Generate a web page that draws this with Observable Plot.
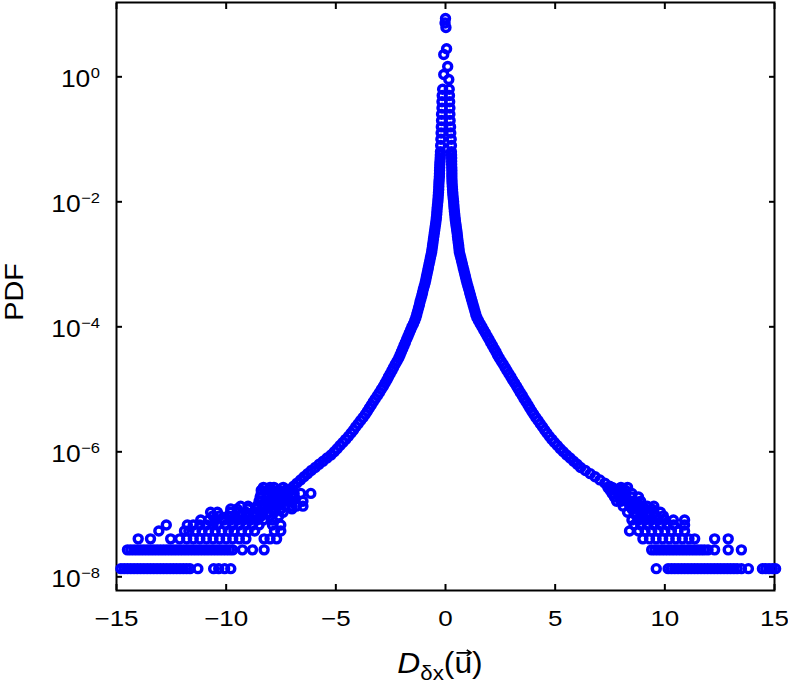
<!DOCTYPE html>
<html><head><meta charset="utf-8">
<script src="https://cdn.jsdelivr.net/npm/d3@7"></script>
<script src="https://cdn.jsdelivr.net/npm/@observablehq/plot@0.6"></script>
<style>
body{margin:0;background:#fff;}
#chart svg{display:block;}
</style></head><body><div id="chart"></div>
<script>
// ---- data ----
const xTicks = [-15, -10, -5, 0, 5, 10, 15];
const yTicks = [1, 1e-2, 1e-4, 1e-6, 1e-8];

// isolated points at the very top of the peak
const peakX   = [0, -0.02, 0.02, 0.05, -0.08, 0.10, -0.08, 0.15];
const peakPdf = [8.57, 7.26, 6.15, 2.81, 2.27, 1.46, 1.09, 0.905];

// PDF levels of the two branches of the central cusp
const corePdf = [
  0.631, 0.501, 0.398, 0.316, 0.251, 0.200, 0.158, 0.126, 0.100, 0.0794,
  0.0631, 0.0562, 0.0501, 0.0447, 0.0398, 0.0355, 0.0316, 0.0282, 0.0251, 0.0224, 0.0200, 0.0178, 0.0158, 0.0141, 0.0126, 0.0112,
  1.00e-2, 8.91e-3, 7.94e-3, 7.08e-3, 6.31e-3, 5.62e-3, 5.01e-3, 4.47e-3, 3.98e-3, 3.55e-3, 3.16e-3, 2.82e-3, 2.51e-3, 2.24e-3, 2.00e-3, 1.78e-3, 1.58e-3, 1.41e-3, 1.26e-3, 1.12e-3,
  1.00e-3, 8.91e-4, 7.94e-4, 7.08e-4, 6.31e-4, 5.62e-4, 5.01e-4, 4.47e-4, 3.98e-4, 3.55e-4, 3.16e-4, 2.82e-4, 2.51e-4, 2.24e-4, 2.00e-4, 1.78e-4, 1.58e-4, 1.41e-4, 1.26e-4, 1.12e-4,
  1.00e-4, 8.91e-5, 7.94e-5, 7.08e-5, 6.31e-5, 5.62e-5, 5.01e-5, 4.47e-5, 3.98e-5, 3.55e-5, 3.16e-5, 2.82e-5, 2.51e-5, 2.24e-5, 2.00e-5, 1.78e-5, 1.58e-5, 1.41e-5, 1.26e-5, 1.12e-5,
  1.00e-5, 8.91e-6, 7.94e-6, 7.08e-6, 6.31e-6, 5.62e-6, 5.01e-6, 4.47e-6, 3.98e-6, 3.55e-6, 3.16e-6, 2.82e-6, 2.51e-6, 2.24e-6, 2.00e-6, 1.78e-6, 1.58e-6, 1.41e-6, 1.26e-6, 1.12e-6,
  1.00e-6, 8.91e-7, 7.94e-7, 7.08e-7, 6.31e-7, 5.62e-7, 5.01e-7, 4.47e-7, 3.98e-7, 3.55e-7, 3.16e-7, 2.82e-7, 2.51e-7, 2.24e-7, 2.00e-7, 1.78e-7, 1.58e-7, 1.41e-7, 1.26e-7, 1.12e-7,
  1.00e-7
];
const coreLeftX = [
  -0.13, -0.15, -0.16, -0.16, -0.18, -0.18, -0.19, -0.20, -0.21, -0.22,
  -0.23, -0.235, -0.24, -0.25, -0.26, -0.265, -0.27, -0.275, -0.28, -0.29, -0.30, -0.305, -0.31, -0.32, -0.33, -0.34,
  -0.35, -0.365, -0.38, -0.39, -0.40, -0.415, -0.43, -0.45, -0.47, -0.49, -0.51, -0.53, -0.55, -0.57, -0.59, -0.61, -0.63, -0.66, -0.69, -0.72,
  -0.75, -0.78, -0.81, -0.84, -0.87, -0.90, -0.93, -0.97, -1.01, -1.045, -1.08, -1.12, -1.16, -1.19, -1.23, -1.27, -1.31, -1.35, -1.40, -1.46,
  -1.53, -1.59, -1.65, -1.71, -1.77, -1.83, -1.89, -1.95, -2.01, -2.07, -2.13, -2.21, -2.29, -2.37, -2.44, -2.52, -2.60, -2.67, -2.75, -2.83,
  -2.92, -3.01, -3.10, -3.20, -3.29, -3.38, -3.47, -3.56, -3.65, -3.76, -3.87, -3.98, -4.09, -4.19, -4.30, -4.42, -4.55, -4.68, -4.81, -4.94,
  -5.07, -5.22, -5.40, -5.58, -5.76, -5.94, -6.12, -6.29, -6.45, -6.61, -6.77, -6.93, -7.10, -7.30, -7.50, -7.70, -7.90, -8.09, -8.28, -8.47,
  -8.66
];
const coreRightX = [
  0.17, 0.18, 0.19, 0.20, 0.20, 0.21, 0.23, 0.24, 0.26, 0.27,
  0.27, 0.275, 0.28, 0.28, 0.28, 0.285, 0.29, 0.29, 0.29, 0.295, 0.30, 0.31, 0.32, 0.33, 0.34, 0.355,
  0.37, 0.38, 0.39, 0.405, 0.42, 0.435, 0.45, 0.47, 0.49, 0.51, 0.53, 0.545, 0.56, 0.58, 0.60, 0.615, 0.63, 0.665, 0.70, 0.735,
  0.77, 0.805, 0.84, 0.875, 0.91, 0.945, 0.98, 1.02, 1.06, 1.10, 1.14, 1.18, 1.22, 1.26, 1.30, 1.34, 1.38, 1.43, 1.50, 1.58,
  1.66, 1.74, 1.82, 1.90, 1.98, 2.06, 2.14, 2.22, 2.30, 2.37, 2.45, 2.54, 2.63, 2.72, 2.80, 2.89, 2.98, 3.06, 3.15, 3.24,
  3.32, 3.41, 3.50, 3.58, 3.67, 3.76, 3.84, 3.93, 4.02, 4.12, 4.22, 4.32, 4.42, 4.52, 4.62, 4.73, 4.85, 4.97, 5.10, 5.23,
  5.37, 5.52, 5.68, 5.84, 6.00, 6.16, 6.38, 6.60, 6.82, 7.04, 7.26, 7.48, 7.68, 7.88, 8.07, 8.26, 8.45, 8.63, 8.82, 9.00,
  9.18
];

// quantised PDF levels in the sparse tails, and the x positions seen on each level
const tailLevelPdf = [1.35e-8, 2.7e-8, 4.05e-8, 5.4e-8, 6.75e-8, 8.1e-8, 9.45e-8, 1.08e-7, 1.22e-7, 1.35e-7, 1.62e-7, 1.89e-7, 2.16e-7, 2.43e-7, 2.7e-7];
const tailXByLevel = [
  [-14.8, -14.65, -14.5, -14.35, -14.2, -14.05, -13.9, -13.75, -13.6, -13.45, -13.3, -13.15, -13.0, -12.85, -12.7, -12.55, -12.4, -12.25, -12.1, -11.95, -11.8, -11.65, -11.29, -10.57, -10.34, -10.07, -9.79,
   9.61, 10.15, 10.3, 10.45, 10.6, 10.75, 10.9, 11.05, 11.2, 11.35, 11.5, 11.65, 11.8, 11.95, 12.1, 12.25, 12.4, 12.55, 12.7, 12.85, 13.0, 13.15, 13.3, 13.49, 13.81, 14.45, 14.6, 14.75, 14.9, 15.05],
  [-14.5, -14.35, -14.2, -14.05, -13.9, -13.75, -13.6, -13.45, -13.3, -13.15, -13.0, -12.85, -12.7, -12.55, -12.4, -12.25, -12.1, -11.95, -11.8, -11.65, -11.5, -11.35, -11.2, -11.05, -10.9, -10.75, -10.6, -10.45, -10.3, -10.15, -10.0, -9.85, -9.7, -9.26, -8.80, -8.27,
   9.4, 9.55, 9.7, 9.85, 10.0, 10.15, 10.3, 10.45, 10.6, 10.75, 10.9, 11.05, 11.2, 11.35, 11.5, 11.65, 11.8, 11.97, 12.27, 12.89, 13.49],
  [-14.01, -13.45, -12.53, -12.12, -11.8, -11.5, -11.2, -10.9, -10.6, -10.3, -10.0, -9.7, -9.4, -9.1, -8.27, -8.0, -7.7,
   9.0, 9.3, 9.6, 9.9, 10.2, 10.5, 10.8, 11.1, 11.36, 12.27, 12.89],
  [-13.07, -11.9, -11.7, -11.4, -11.1, -10.8, -10.5, -10.2, -9.9, -9.64, -9.3, -9.0, -8.7, -7.8, -7.51,
   8.39, 8.8, 9.1, 9.4, 9.7, 10.0, 10.3, 10.6, 10.9],
  [-12.73, -11.77, -11.5, -11.2, -10.9, -10.6, -10.40, -10.02, -9.7, -9.4, -9.1, -8.8, -8.5, -7.89, -7.51,
   8.6, 8.9, 9.2, 9.5, 9.8, 10.1, 10.4, 10.9],
  [-11.16, -10.8, -10.5, -10.1, -9.8, -9.5, -9.2, -8.9, -8.6, -8.3, -7.9,
   8.5, 8.8, 9.1, 9.4, 9.7, 10.0, 10.39, 10.9],
  [-10.6, -10.3, -9.9, -9.6, -9.3, -9.0, -8.7, -8.4, -8.0, -7.6, 8.7, 9.0, 9.3, 9.6, 9.93],
  [-10.71, -10.4, -9.8, -9.4, -9.1, -8.65, -8.4, -8.1, -7.8, -7.4, 8.3, 8.6, 8.9, 9.2, 9.5, 9.8],
  [-9.79, -9.5, -9.0, -8.6, -8.3, -7.9, -7.5, -7.0, 8.5, 8.8, 9.1, 9.4],
  [-9.34, -9.0, -8.6, -8.3, -8.0, -7.7, -7.3, -7.0, -6.8, -6.5, 8.1, 8.4, 8.7, 9.0, 9.2, 9.5],
  [-8.5, -8.2, -8.0, -7.8, -7.6, -7.4, -7.2, -7.0, -6.5, 7.8, 8.0, 8.3, 8.6, 8.9],
  [-8.45, -8.1, -7.9, -7.6, -7.4, -7.2, -7.0, -6.9, 7.7, 8.0, 8.2, 8.5, 8.8],
  [-8.4, -8.12, -7.8, -7.5, -7.2, -6.9, -6.6, -6.14, 7.6, 7.9, 8.2, 8.5],
  [-8.4, -8.1, -7.9, -7.6, -7.3, -7.0, 7.5, 7.7, 8.0, 8.2],
  [-8.3, -8.0, -7.82, -7.4, 7.4, 7.6, 8.0, 8.3]
];

// ---- table for the library ----
const data = [];
peakX.forEach((x, i) => data.push({x, pdf: peakPdf[i]}));
corePdf.forEach((p, i) => { data.push({x: coreLeftX[i], pdf: p}); data.push({x: coreRightX[i], pdf: p}); });
tailLevelPdf.forEach((p, k) => tailXByLevel[k].forEach(x => data.push({x, pdf: p})));

const font = "Helvetica, Arial, 'Liberation Sans', sans-serif";
const fmtX = d => (d < 0 ? "\u2212" + (-d) : String(d));
const expStr = d => { const e = Math.round(Math.log10(d)); return e < 0 ? "\u2212" + (-e) : String(e); };

const plot = Plot.plot({
  width: 788, height: 689,
  marginLeft: 116, marginRight: 14, marginTop: 2, marginBottom: 99,
  style: {fontFamily: font, background: "white", color: "black", overflow: "visible"},
  x: {domain: [-15, 15]},
  y: {type: "log", domain: [10 ** -8.219, 10 ** 1.189]},
  marks: [
    Plot.frame({stroke: "black", strokeWidth: 2}),
    Plot.axisX({anchor: "bottom", ticks: xTicks, tickSize: -6, tickPadding: 26, strokeWidth: 2, fontSize: 22, tickFormat: fmtX, label: null}),
    Plot.axisX({anchor: "top", ticks: xTicks, tickSize: -6, strokeWidth: 2, tickFormat: () => "", label: null}),
    Plot.axisY({anchor: "left", ticks: yTicks, tickSize: -6, strokeWidth: 2, tickFormat: () => "", label: null}),
    Plot.axisY({anchor: "right", ticks: yTicks, tickSize: -6, strokeWidth: 2, tickFormat: () => "", label: null}),
    Plot.dot(data, {x: "x", y: "pdf", r: 4, stroke: "#0000ff", strokeWidth: 3.4, fill: "none"})
  ]
});
document.getElementById("chart").append(plot);

const svg = d3.select(plot);
svg.selectAll('[aria-label="x-axis tick label"] text').each(function () {
  const tr = this.getAttribute("transform") || "";
  this.setAttribute("transform", `${tr} scale(1.18,1)`);
});

// y tick labels 10^n, placed with the plot's own y scale, right edge at x = 100
const ys = plot.scale("y");
const yLabels = svg.append("g").attr("font-family", font).attr("fill", "black");
yTicks.forEach(v => {
  const gg = yLabels.append("g").attr("transform", `translate(100,${ys.apply(v) + 10.7}) scale(1.1,1)`);
  const sup = gg.append("text").attr("text-anchor", "end").attr("font-size", 15).attr("y", -8.7).text(expStr(v));
  const w = sup.node().getComputedTextLength();
  gg.append("text").attr("text-anchor", "end").attr("font-size", 24).attr("x", -w - 0.5).text("10");
});

// y-axis title
svg.append("text")
  .attr("transform", "translate(23,292) rotate(-90) scale(1.15,1)")
  .attr("text-anchor", "middle").attr("font-family", font).attr("font-size", 25).attr("fill", "black")
  .text("PDF");

// x-axis title  D_δx(u⃗)
const cx = plot.scale("x").apply(0) - 5;
const g = svg.append("g").attr("transform", `translate(${cx},673) scale(1.06,1)`);
const lbl = g.append("text")
  .attr("text-anchor", "middle").attr("font-family", font).attr("font-size", 30).attr("fill", "black");
lbl.append("tspan").attr("font-style", "italic").text("D");
lbl.append("tspan").attr("font-size", "21px").attr("dy", "7px").text("\u03b4x");
lbl.append("tspan").attr("dy", "-7px").text("(u)");
const ext = lbl.node().getExtentOfChar(4);
const ax0 = ext.x + 2, ax1 = ext.x + ext.width - 1, ay = ext.y + 7;
g.append("path")
  .attr("d", `M${ax0},${ay}L${ax1},${ay}M${ax1 - 4},${ay - 3}L${ax1},${ay}L${ax1 - 4},${ay + 3}`)
  .attr("fill", "none").attr("stroke", "black").attr("stroke-width", 1.6);
</script>
</body></html>
